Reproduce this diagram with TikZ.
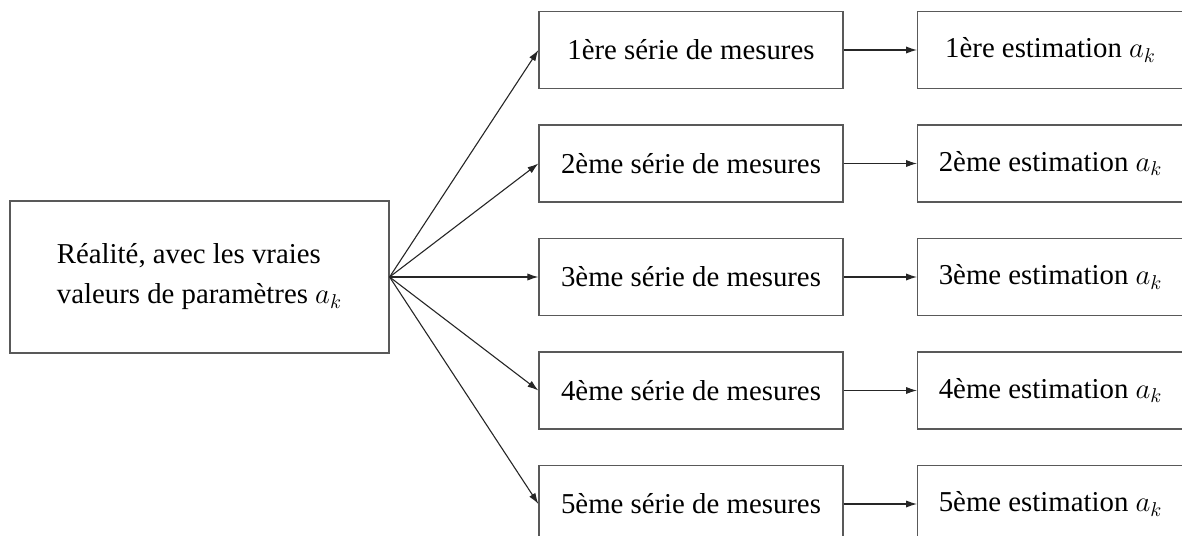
\documentclass[tikz,border=0pt]{standalone}
\usepackage{fontspec}
\setmainfont{Liberation Serif}
\usetikzlibrary{arrows.meta}
\begin{document}
\begin{tikzpicture}[x=0.5pt,y=-0.5pt,
  box/.style={draw=black!65, line width=0.6pt, inner sep=0pt,
    font=\fontsize{14.4}{20}\selectfont},
  midbox/.style={box, minimum width=152pt, minimum height=38.5pt},
  estbox/.style={box, minimum width=133pt, minimum height=38.5pt, anchor=west},
  conn/.style={draw=black!85, line width=0.55pt, -{Latex[length=5.5pt,width=3.6pt]}}]
\useasboundingbox (0,0) rectangle (1182,535);
\node[box, minimum width=189.5pt, minimum height=76pt, align=left] (real) at (199.5,277)
  {Réalité, avec les vraies\\valeurs de paramètres $a_k$};
\foreach \i/\y/\s in {1/50/1ère,2/163.5/2ème,3/277/3ème,4/390.5/4ème,5/504/5ème}{
  \node[midbox] (m\i) at (691,\y) {\s{} série de mesures};
  \node[estbox] (e\i) at (917,\y) {\s{} estimation $a_k$};
  \draw[conn] (real.east) -- (m\i.west);
  \draw[conn] (m\i.east) -- (e\i.west);
}
\end{tikzpicture}
\end{document}
